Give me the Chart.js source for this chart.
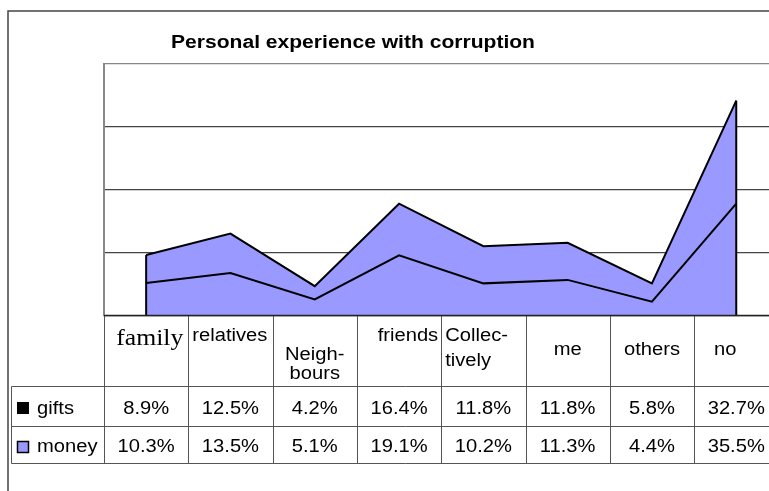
<!DOCTYPE html>
<html>
<head>
<meta charset="utf-8">
<script src="https://cdn.jsdelivr.net/npm/chart.js@4.4.1/dist/chart.umd.min.js"></script>
<style>
  html, body { margin: 0; padding: 0; background: #fff; overflow: hidden; width: 769px; height: 491px; }
  #wrap { position: absolute; left: 0; top: 0; width: 800px; height: 491px; }
</style>
</head>
<body>
<div id="wrap"><canvas id="c" width="800" height="491"></canvas></div>
<script>
// ---- data ----
const chartTitle = 'Personal experience with corruption';
const categories = ['family', 'relatives', 'Neighbours', 'friends', 'Collectively', 'me', 'others', 'no'];
const headerLabels = [['family'], ['relatives'], ['Neigh-', 'bours'], ['friends'], ['Collec-', 'tively'], ['me'], ['others'], ['no']];
const seriesNames = ['gifts', 'money'];
const gifts = [8.9, 12.5, 4.2, 16.4, 11.8, 11.8, 5.8, 32.7];
const money = [10.3, 13.5, 5.1, 19.1, 10.2, 11.3, 4.4, 35.5];
const yTicks = [0, 20, 40, 60, 80];

// ---- styles ----
const PURPLE = '#9999FF';
const SANS = '"Liberation Sans", Arial, sans-serif';
const SERIF = '"Liberation Serif", "Times New Roman", serif';

function drawText(ctx, str, x, y, align, font, sx) {
  ctx.save();
  ctx.font = font;
  ctx.textAlign = 'left';
  ctx.textBaseline = 'alphabetic';
  const w = ctx.measureText(str).width * sx;
  let left = x;
  if (align === 'center') left = x - w / 2;
  else if (align === 'right') left = x - w;
  ctx.translate(left, y);
  ctx.scale(sx, 1);
  ctx.fillStyle = '#000';
  ctx.fillText(str, 0, 0);
  ctx.restore();
}

// header layout per column: alignment, padding, baselines, font
const headerStyle = [
  { align: 'right', pad: 5, base: [345], font: '24px ' + SERIF, sx: 1.07 },
  { align: 'left', pad: 4, base: [341] },
  { align: 'center', pad: 0, base: [360, 379] },
  { align: 'right', pad: 3, base: [341] },
  { align: 'left', pad: 4, base: [341, 366] },
  { align: 'center', pad: 0, base: [355] },
  { align: 'center', pad: 0, base: [355] },
  { align: 'left', pad: 20, base: [355] }
];

const tablePlugin = {
  id: 'tablePlugin',
  afterDatasetsDraw(chart) {
    // vertical edges of the area at the first and last point
    const ctx = chart.ctx;
    const top = chart.getDatasetMeta(1).data;
    const yBase = chart.scales.y.getPixelForValue(0);
    ctx.save();
    ctx.strokeStyle = '#000';
    ctx.lineWidth = 2;
    [0, top.length - 1].forEach(i => {
      ctx.beginPath();
      ctx.moveTo(top[i].x, yBase);
      ctx.lineTo(top[i].x, top[i].y);
      ctx.stroke();
    });
    ctx.restore();
  },
  afterDraw(chart) {
    const ctx = chart.ctx;
    const xs = chart.scales.x;
    const area = chart.chartArea;
    const n = categories.length;
    const centers = categories.map((_, i) => xs.getPixelForValue(i));
    const step = centers[1] - centers[0];
    const bounds = [area.left];
    for (let i = 0; i < n; i++) bounds.push(centers[i] + step / 2);

    const rowTop = area.bottom;
    const row1 = 386.5, row2 = 426.5, row3 = 463.5;
    const legendLeft = 11.5;

    ctx.save();
    // outer frame
    ctx.strokeStyle = '#444';
    ctx.lineWidth = 1.5;
    ctx.beginPath();
    ctx.moveTo(8, 491); ctx.lineTo(8, 11); ctx.lineTo(800, 11);
    ctx.stroke();

    // table lines
    ctx.strokeStyle = '#555';
    ctx.lineWidth = 1;
    ctx.beginPath();
    [row1, row2, row3].forEach(y => { ctx.moveTo(legendLeft, y); ctx.lineTo(800, y); });
    ctx.moveTo(legendLeft, row1); ctx.lineTo(legendLeft, row3);
    bounds.forEach(b => { const bx = Math.round(b) + 0.5; ctx.moveTo(bx, rowTop); ctx.lineTo(bx, row3); });
    ctx.stroke();

    // axis bottom line
    ctx.strokeStyle = '#222';
    ctx.lineWidth = 1.5;
    ctx.beginPath();
    ctx.moveTo(area.left, area.bottom); ctx.lineTo(800, area.bottom);
    ctx.stroke();
    ctx.restore();

    // title
    drawText(ctx, chartTitle, 353, 48, 'center', 'bold 18px ' + SANS, 1.17);

    // header labels
    const baseFont = '18px ' + SANS;
    headerLabels.forEach((lines, i) => {
      const st = headerStyle[i];
      const font = st.font || baseFont;
      const sx = st.sx || 1.12;
      let x;
      if (st.align === 'left') x = bounds[i] + st.pad;
      else if (st.align === 'right') x = bounds[i + 1] - st.pad;
      else x = centers[i];
      lines.forEach((ln, k) => drawText(ctx, ln, x, st.base[k], st.align, font, sx));
    });

    // values
    const rows = [gifts, money];
    const baselines = [414, 452];
    rows.forEach((vals, r) => {
      vals.forEach((v, i) => drawText(ctx, v.toFixed(1) + '%', centers[i], baselines[r], 'center', baseFont, 1.12));
    });

    // legend keys
    ctx.save();
    ctx.fillStyle = '#000';
    ctx.fillRect(17, 402, 12, 12);
    ctx.fillStyle = PURPLE;
    ctx.fillRect(17.5, 441.5, 11, 11);
    ctx.strokeStyle = '#000';
    ctx.lineWidth = 1.5;
    ctx.strokeRect(17.5, 441.5, 11, 11);
    ctx.restore();
    drawText(ctx, seriesNames[0], 37, baselines[0], 'left', baseFont, 1.12);
    drawText(ctx, seriesNames[1], 37, baselines[1], 'left', baseFont, 1.12);
  }
};

new Chart(document.getElementById('c'), {
  type: 'line',
  data: {
    labels: categories,
    datasets: [
      { label: seriesNames[1], data: money, fill: 'origin', backgroundColor: PURPLE, borderColor: '#000', borderWidth: 2, pointRadius: 0, tension: 0 },
      { label: seriesNames[0], data: gifts, fill: '-1', backgroundColor: PURPLE, borderColor: '#000', borderWidth: 2, pointRadius: 0, tension: 0 }
    ]
  },
  options: {
    responsive: false,
    animation: false,
    devicePixelRatio: 1,
    layout: { padding: { left: 104, top: 63.5, right: 21.6, bottom: 175.5 } },
    plugins: { legend: { display: false }, title: { display: false }, tooltip: { enabled: false } },
    elements: { line: { borderJoinStyle: 'miter' } },
    scales: {
      x: {
        offset: true,
        grid: { display: false, drawTicks: false },
        border: { display: false },
        ticks: { display: false }
      },
      y: {
        stacked: true,
        min: yTicks[0],
        max: yTicks[yTicks.length - 1],
        afterBuildTicks(axis) { axis.ticks = yTicks.map(v => ({ value: v })); },
        grid: {
          drawTicks: false,
          color: ctx => (ctx.tick && ctx.tick.value === 80) ? '#888' : '#444',
          lineWidth: 1.2
        },
        border: { display: true, color: '#888', width: 2 },
        ticks: { display: false }
      }
    }
  },
  plugins: [tablePlugin]
});
</script>
</body>
</html>
